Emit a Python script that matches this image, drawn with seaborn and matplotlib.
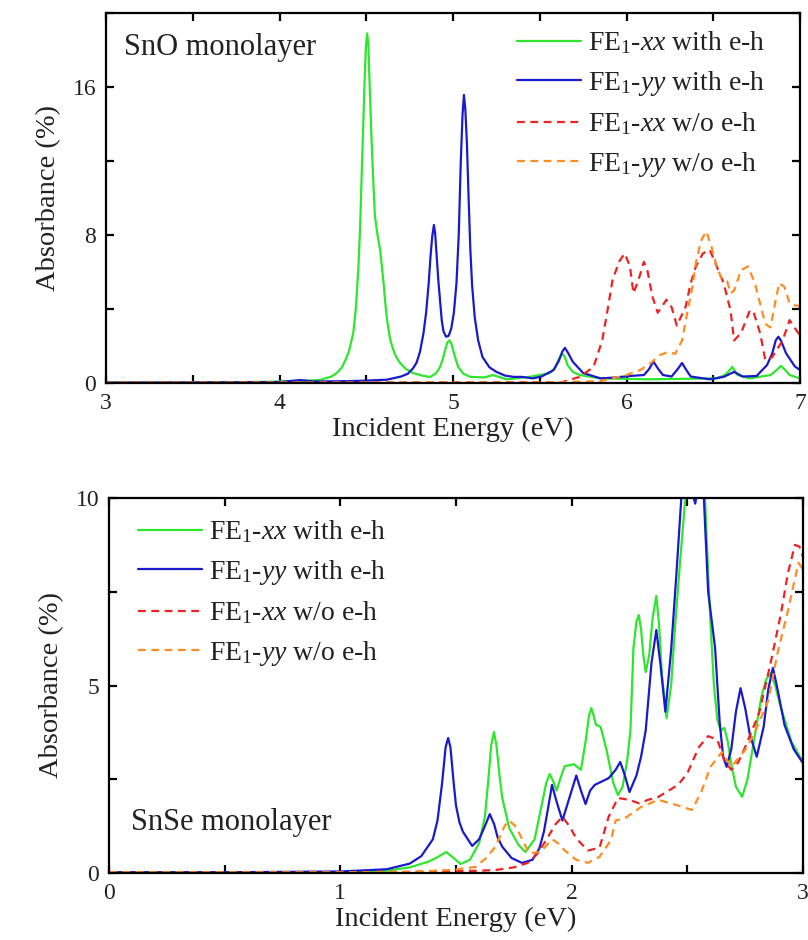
import numpy as np
import pandas as pd
import matplotlib
matplotlib.use("Agg")
import matplotlib.pyplot as plt
import seaborn as sns
from matplotlib.ticker import MultipleLocator

# ---------------- data: SnO monolayer (top) ----------------
sno_xx_eh_E = [3.0, 3.5, 3.8, 4.0, 4.1, 4.233, 4.3, 4.33, 4.36, 4.38, 4.40, 4.425, 4.44, 4.455,
               4.465, 4.475, 4.483, 4.49, 4.498, 4.505, 4.512, 4.52, 4.53, 4.54, 4.55, 4.565,
               4.58, 4.59, 4.60, 4.61, 4.62, 4.635, 4.65, 4.67, 4.695, 4.73, 4.77, 4.83, 4.87,
               4.905, 4.925, 4.94, 4.955, 4.968, 4.98, 4.99, 5.0, 5.015, 5.03, 5.06, 5.10, 5.18,
               5.23, 5.31, 5.44, 5.5, 5.56, 5.59, 5.61, 5.63, 5.645, 5.66, 5.69, 5.73, 5.85,
               6.13, 6.52, 6.56, 6.58, 6.61, 6.625, 6.64, 6.71, 6.83, 6.865, 6.89, 6.915, 6.94, 7.0]
sno_xx_eh_A = [0.02, 0.03, 0.05, 0.08, 0.11, 0.16, 0.35, 0.54, 0.85, 1.24, 1.7, 2.7, 4.0, 6.3,
               8.5, 11.7, 14.0, 16.2, 18.2, 18.9, 18.3, 16.0, 13.3, 11.0, 9.0, 8.0,
               7.2, 6.3, 5.4, 4.3, 3.4, 2.5, 1.95, 1.45, 1.08, 0.75, 0.54, 0.38, 0.33,
               0.55, 0.87, 1.25, 1.8, 2.2, 2.3, 2.15, 1.8, 1.3, 0.87, 0.5, 0.33, 0.3,
               0.43, 0.2, 0.33, 0.43, 0.54, 0.85, 1.3, 1.6, 1.4, 0.97, 0.6, 0.43, 0.25,
               0.2, 0.25, 0.4, 0.54, 0.87, 0.65, 0.43, 0.25, 0.43, 0.7, 0.92, 0.7, 0.43, 0.25]

sno_yy_eh_E = [3.0, 3.5, 4.0, 4.12, 4.2, 4.4, 4.5, 4.62, 4.70, 4.74, 4.77, 4.79, 4.81, 4.83, 4.845,
               4.86, 4.87, 4.88, 4.89, 4.897, 4.905, 4.915, 4.925, 4.935, 4.945, 4.96, 4.975,
               4.99, 5.005, 5.02, 5.033, 5.045, 5.055, 5.063, 5.071, 5.08, 5.09, 5.10, 5.11,
               5.125, 5.145, 5.17, 5.21, 5.25, 5.3, 5.35, 5.40, 5.46, 5.51, 5.58, 5.61, 5.63,
               5.645, 5.665, 5.69, 5.75, 5.85, 5.94, 6.02, 6.10, 6.13, 6.155, 6.18, 6.21, 6.26,
               6.295, 6.32, 6.345, 6.37, 6.48, 6.56, 6.62, 6.67, 6.75, 6.81, 6.84, 6.86, 6.875,
               6.89, 6.92, 6.97, 7.0]
sno_yy_eh_A = [0.02, 0.03, 0.05, 0.16, 0.08, 0.1, 0.13, 0.18, 0.35, 0.5, 0.8, 1.1, 1.7, 2.7, 3.8,
               5.4, 6.8, 7.9, 8.54, 8.1, 7.0, 5.6, 4.5, 3.4, 2.8, 2.5, 2.55,
               2.95, 3.8, 5.4, 8.0, 12.0, 14.5, 15.57, 14.8, 13.0, 10.0, 7.2, 5.3,
               3.57, 2.3, 1.4, 0.85, 0.6, 0.4, 0.33, 0.33, 0.25, 0.35, 0.7, 1.2, 1.7,
               1.9, 1.6, 1.15, 0.54, 0.25, 0.3, 0.38, 0.43, 0.75, 1.16, 0.8, 0.43, 0.35,
               0.75, 1.08, 0.7, 0.35, 0.2, 0.33, 0.6, 0.35, 0.38, 0.97, 1.6, 2.3, 2.5,
               2.3, 1.6, 0.9, 0.7]

sno_xx_noeh_E = [3.0, 5.0, 5.5, 5.63, 5.73, 5.81, 5.86, 5.89, 5.92, 5.96, 5.99, 6.02, 6.04, 6.07,
                 6.10, 6.12, 6.15, 6.18, 6.23, 6.26, 6.29, 6.34, 6.37, 6.40, 6.44, 6.48, 6.52,
                 6.56, 6.60, 6.62, 6.66, 6.71, 6.73, 6.77, 6.80, 6.84, 6.90, 6.94, 6.99, 7.0]
sno_xx_noeh_A = [0.02, 0.03, 0.04, 0.05, 0.33, 0.87, 2.3, 3.9, 5.6, 6.6, 7.0, 6.3, 4.85, 5.6,
                 6.55, 6.1, 4.65, 3.8, 4.5, 4.1, 3.1, 4.1, 5.4, 6.3, 7.0, 7.2, 6.3,
                 5.4, 3.9, 2.3, 2.7, 3.9, 3.9, 2.7, 1.24, 1.4, 2.3, 3.4, 2.7, 2.6]

sno_yy_noeh_E = [3.0, 5.5, 5.62, 5.85, 6.0, 6.08, 6.14, 6.19, 6.24, 6.28, 6.32, 6.35, 6.38, 6.40,
                 6.43, 6.46, 6.49, 6.52, 6.55, 6.58, 6.60, 6.62, 6.66, 6.70, 6.74, 6.77, 6.80,
                 6.83, 6.86, 6.88, 6.91, 6.94, 6.97, 7.0]
sno_yy_noeh_A = [0.02, 0.03, 0.05, 0.1, 0.43, 0.7, 1.08, 1.5, 1.68, 1.57, 2.3, 3.8, 5.2, 6.5,
                 7.7, 8.2, 7.35, 6.3, 5.6, 5.5, 4.85, 5.0, 6.1, 6.3, 5.4, 4.3, 3.2,
                 3.0, 4.5, 5.4, 5.2, 4.3, 4.2, 4.15]

# ---------------- data: SnSe monolayer (bottom) ----------------
snse_xx_eh_E = [0.0, 0.5, 1.0, 1.2, 1.3, 1.38, 1.42, 1.457, 1.48, 1.52, 1.56, 1.6, 1.625, 1.64,
                1.652, 1.664, 1.675, 1.688, 1.70, 1.73, 1.77, 1.80, 1.84, 1.87, 1.89, 1.905,
                1.92, 1.935, 1.95, 1.97, 2.01, 2.04, 2.06, 2.075, 2.085, 2.095, 2.105, 2.125,
                2.15, 2.18, 2.20, 2.22, 2.24, 2.254, 2.267, 2.28, 2.29, 2.30, 2.31, 2.32, 2.335,
                2.35, 2.366, 2.378, 2.39, 2.41, 2.43, 2.448, 2.47, 2.49, 2.51, 2.53, 2.55, 2.575,
                2.59, 2.60, 2.615, 2.63, 2.645, 2.66, 2.675, 2.69, 2.71, 2.737, 2.76, 2.79, 2.82,
                2.84, 2.86, 2.88, 2.90, 2.95, 3.0]
snse_xx_eh_A = [0.02, 0.02, 0.02, 0.06, 0.15, 0.3, 0.42, 0.56, 0.45, 0.24, 0.35, 0.8, 1.5, 2.5,
                3.4, 3.76, 3.4, 2.6, 2.0, 1.2, 0.75, 0.56, 0.9, 1.8, 2.4, 2.64,
                2.45, 2.2, 2.5, 2.85, 2.9, 2.75, 3.5, 4.2, 4.4, 4.2, 3.95, 3.9,
                3.3, 2.4, 2.08, 2.3, 3.0, 3.8, 6.0, 6.7, 6.88, 6.5, 5.8, 5.36, 5.8,
                6.8, 7.39, 6.6, 5.3, 4.13, 5.0, 6.67, 8.4, 9.9, 10.8, 10.3, 10.8, 10.2,
                8.0, 6.67, 5.0, 4.08, 3.8, 3.87, 3.5, 2.9, 2.3, 2.03, 2.5, 3.6, 4.7,
                5.15, 5.33, 5.0, 4.5, 3.5, 2.95]

snse_yy_eh_E = [0.0, 0.5, 1.0, 1.2, 1.3, 1.35, 1.4, 1.42, 1.44, 1.455, 1.466, 1.476, 1.49, 1.5,
                1.515, 1.53, 1.57, 1.6, 1.625, 1.646, 1.665, 1.68, 1.70, 1.74, 1.785, 1.83, 1.86,
                1.88, 1.90, 1.915, 1.935, 1.96, 1.99, 2.02, 2.04, 2.06, 2.08, 2.10, 2.16, 2.19,
                2.21, 2.23, 2.25, 2.28, 2.30, 2.32, 2.345, 2.366, 2.385, 2.405, 2.43, 2.453,
                2.474, 2.49, 2.51, 2.534, 2.55, 2.57, 2.59, 2.62, 2.64, 2.655, 2.67, 2.69, 2.71,
                2.73, 2.75, 2.77, 2.80, 2.83, 2.85, 2.87, 2.89, 2.92, 2.96, 3.0]
snse_yy_eh_A = [0.02, 0.02, 0.04, 0.1, 0.25, 0.45, 0.9, 1.4, 2.4, 3.35, 3.6, 3.35, 2.4, 1.8,
                1.35, 1.1, 0.72, 0.9, 1.25, 1.57, 1.3, 0.95, 0.7, 0.4, 0.27, 0.35, 0.65,
                1.1, 1.8, 2.35, 1.9, 1.4, 2.0, 2.6, 2.2, 1.84, 2.2, 2.35, 2.53, 2.75,
                2.96, 2.6, 2.16, 2.6, 3.1, 3.8, 5.6, 6.48, 5.5, 4.3, 5.95, 8.0,
                10.0, 10.6, 10.4, 9.85, 10.4, 10.2, 7.5, 6.0, 4.0, 3.1, 2.83, 3.3, 4.3,
                4.93, 4.4, 3.7, 3.1, 3.9, 4.9, 5.47, 4.9, 3.95, 3.3, 2.93]

snse_xx_noeh_E = [0.0, 1.0, 1.3, 1.5, 1.6, 1.67, 1.75, 1.81, 1.85, 1.89, 1.93, 1.96, 1.99, 2.02,
                  2.07, 2.12, 2.16, 2.20, 2.25, 2.29, 2.33, 2.375, 2.42, 2.46, 2.50, 2.55, 2.59,
                  2.63, 2.66, 2.69, 2.72, 2.75, 2.81, 2.86, 2.905, 2.935, 2.965, 2.985, 3.0]
snse_xx_noeh_A = [0.02, 0.02, 0.03, 0.05, 0.06, 0.08, 0.15, 0.27, 0.5, 0.88, 1.3, 1.5, 1.25, 0.92,
                  0.6, 0.67, 1.5, 2.0, 1.95, 1.86, 1.95, 2.03, 2.2, 2.35, 2.66, 3.36, 3.65,
                  3.55, 3.0, 2.75, 2.95, 3.36, 4.26, 5.6, 6.93, 8.0, 8.75, 8.7, 8.43]

snse_yy_noeh_E = [0.0, 1.0, 1.3, 1.48, 1.585, 1.63, 1.67, 1.71, 1.73, 1.76, 1.79, 1.815, 1.866,
                  1.915, 1.94, 1.97, 2.02, 2.07, 2.12, 2.17, 2.19, 2.23, 2.30, 2.375, 2.46, 2.52,
                  2.56, 2.60, 2.65, 2.69, 2.75, 2.79, 2.85, 2.89, 2.935, 2.98, 3.0]
snse_yy_noeh_A = [0.02, 0.02, 0.03, 0.08, 0.16, 0.4, 0.7, 1.25, 1.4, 1.23, 0.85, 0.53, 0.56,
                  0.9, 0.8, 0.6, 0.35, 0.27, 0.43, 0.88, 1.4, 1.46, 1.76, 1.95, 1.8, 1.68,
                  2.16, 2.83, 3.23, 2.83, 3.28, 3.73, 4.6, 5.87, 7.0, 8.27, 8.1]

labels = [r"FE$_1$-$xx$ with e-h", r"FE$_1$-$yy$ with e-h",
          r"FE$_1$-$xx$ w/o e-h", r"FE$_1$-$yy$ w/o e-h"]
colors = ["#2ee62e", "#1a1acc", "#ee2222", "#ff8c22"]

# ---------------- style ----------------
sns.set_theme(style="ticks")
plt.rcParams["font.family"] = ["Liberation Serif", "DejaVu Serif"]
plt.rcParams["mathtext.fontset"] = "custom"
plt.rcParams["mathtext.rm"] = "Liberation Serif"
plt.rcParams["mathtext.it"] = "Liberation Serif:italic"
plt.rcParams["mathtext.bf"] = "Liberation Serif:bold"

fig = plt.figure(figsize=(8.08, 9.40), dpi=100)
ax1 = fig.add_axes([106 / 808, 1 - 383 / 940, 694 / 808, 370 / 940])
ax2 = fig.add_axes([109 / 808, 1 - 873 / 940, 694 / 808, 375 / 940])

dash = (0, (3.5, 2.5))


def draw(ax, series):
    for (E, A), lab, col, solid in zip(series, labels, colors, [True, True, False, False]):
        df = pd.DataFrame({"E": E, "A": A})
        sns.lineplot(data=df, x="E", y="A", ax=ax, color=col, lw=1.6,
                     linestyle="-" if solid else dash, label=lab,
                     estimator=None, sort=False,
                     solid_joinstyle="round", dash_joinstyle="round")


draw(ax1, [(sno_xx_eh_E, sno_xx_eh_A), (sno_yy_eh_E, sno_yy_eh_A),
           (sno_xx_noeh_E, sno_xx_noeh_A), (sno_yy_noeh_E, sno_yy_noeh_A)])
draw(ax2, [(snse_xx_eh_E, snse_xx_eh_A), (snse_yy_eh_E, snse_yy_eh_A),
           (snse_xx_noeh_E, snse_xx_noeh_A), (snse_yy_noeh_E, snse_yy_noeh_A)])

ax1.set_xlim(3, 7)
ax1.set_ylim(0, 20)
ax1.xaxis.set_major_locator(MultipleLocator(1))
ax1.xaxis.set_minor_locator(MultipleLocator(0.5))
ax1.yaxis.set_major_locator(MultipleLocator(8))
ax1.yaxis.set_minor_locator(MultipleLocator(4))

ax2.set_xlim(0, 3)
ax2.set_ylim(0, 10)
ax2.xaxis.set_major_locator(MultipleLocator(1))
ax2.xaxis.set_minor_locator(MultipleLocator(0.5))
ax2.yaxis.set_major_locator(MultipleLocator(5))
ax2.yaxis.set_minor_locator(MultipleLocator(2.5))

for ax in (ax1, ax2):
    for s in ax.spines.values():
        s.set_linewidth(1.6)
        s.set_color("black")
    ax.tick_params(which="both", direction="in", top=True, right=True,
                   length=6, width=1.6, color="black")
    ax.tick_params(which="major", labelsize=17, pad=7, labelcolor="#222222")
    ax.set_xlabel("Incident Energy (eV)", fontsize=20.5, labelpad=2, color="#222222")
    ax.set_ylabel("Absorbance (%)", fontsize=20.5, labelpad=8, color="#222222")

ax1.text(0.026, 0.908, "SnO monolayer", transform=ax1.transAxes, fontsize=22,
         va="center", ha="left", color="#222222")
ax2.text(0.032, 0.135, "SnSe monolayer", transform=ax2.transAxes, fontsize=22,
         va="center", ha="left", color="#222222")

leg_kw = dict(frameon=False, fontsize=20, handlelength=2.3, handletextpad=0.25,
              labelspacing=0.45, borderpad=0, borderaxespad=0, loc="upper left")
l1 = ax1.legend(bbox_to_anchor=(0.592, 0.955), **leg_kw)
l2 = ax2.legend(bbox_to_anchor=(0.042, 0.945), **leg_kw)
for leg in (l1, l2):
    for t in leg.get_texts():
        t.set_color("#222222")

fig.savefig("out.png", dpi=100)
